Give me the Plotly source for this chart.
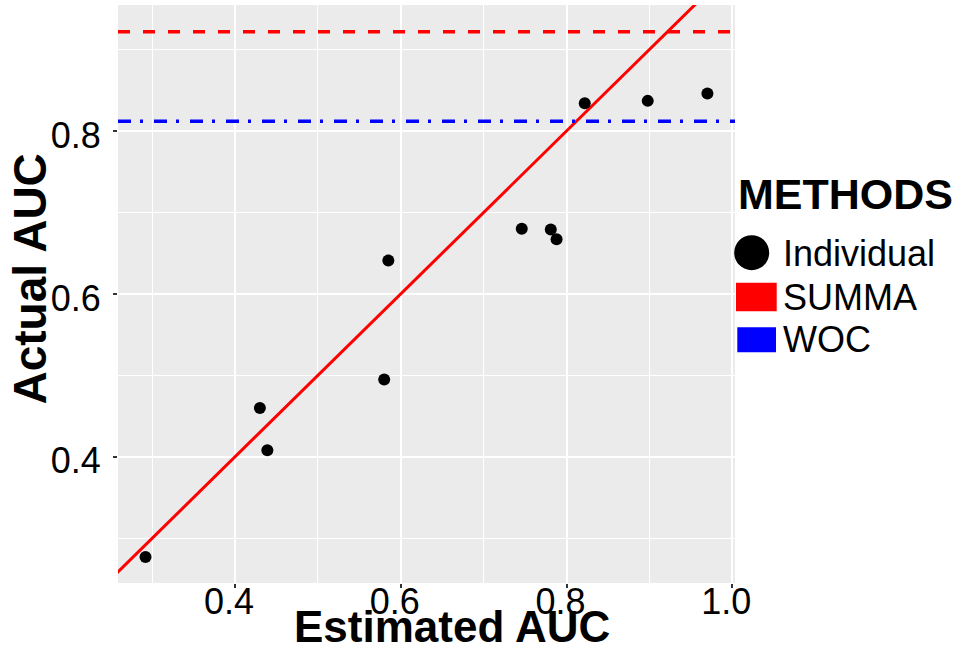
import plotly.graph_objects as go

# ---- data ----
estimated_auc = [0.292, 0.430, 0.439, 0.585, 0.580, 0.746, 0.781, 0.788, 0.822, 0.898, 0.970]
actual_auc = [0.277, 0.460, 0.408, 0.641, 0.495, 0.680, 0.679, 0.667, 0.834, 0.837, 0.846]
summa_auc = 0.922
woc_auc = 0.812
identity_line = [0.0, 1.2]

legend_title = "METHODS"
legend_labels = ["Individual", "SUMMA", "WOC"]
x_ticks = [0.4, 0.6, 0.8, 1.0]
y_ticks = [0.4, 0.6, 0.8]

W, H = 961, 652
L, R, T, B = 118, 226, 5, 69
PW, PH = W - L - R, H - T - B


def px(xp):
    return (xp - L) / PW


def py(yp):
    return (H - B - yp) / PH


FONT = "Liberation Sans, Arial, sans-serif"

fig = go.Figure()

# identity line
fig.add_trace(go.Scatter(x=identity_line, y=identity_line, mode="lines",
                         line=dict(color="#FF0000", width=3), showlegend=False,
                         hoverinfo="skip"))
# points
fig.add_trace(go.Scatter(x=estimated_auc, y=actual_auc, mode="markers",
                         marker=dict(color="black", size=12), showlegend=False,
                         cliponaxis=False))

# horizontal reference lines
fig.add_shape(type="line", xref="paper", yref="y", x0=0, x1=1, y0=summa_auc, y1=summa_auc,
              line=dict(color="#FF0000", width=3.5, dash="12px,13px"))
fig.add_shape(type="line", xref="paper", yref="y", x0=0, x1=1, y0=woc_auc, y1=woc_auc,
              line=dict(color="#0000FF", width=3.5, dash="13px,9px,3px,11px"))

# manual legend
fig.add_annotation(text="<b>%s</b>" % legend_title, xref="paper", yref="paper",
                   x=px(736), y=py(194), xanchor="left", yanchor="middle",
                   showarrow=False, font=dict(family=FONT, size=43, color="black"))
fig.add_shape(type="circle", xref="paper", yref="paper",
              x0=px(734.2), x1=px(769.2), y0=py(270.2), y1=py(235.2),
              fillcolor="black", line=dict(width=0))
fig.add_shape(type="rect", xref="paper", yref="paper",
              x0=px(736), x1=px(776.7), y0=py(311.3), y1=py(282.7),
              fillcolor="#FF0000", line=dict(width=0))
fig.add_shape(type="rect", xref="paper", yref="paper",
              x0=px(737.3), x1=px(776), y0=py(352.3), y1=py(327.3),
              fillcolor="#0000FF", line=dict(width=0))
for label, yc in zip(legend_labels, [253, 297.5, 339.5]):
    fig.add_annotation(text=label, xref="paper", yref="paper", x=px(781), y=py(yc),
                       xanchor="left", yanchor="middle", showarrow=False,
                       font=dict(family=FONT, size=36, color="black"))

# axis titles
fig.add_annotation(text="<b>Estimated AUC</b>", xref="paper", yref="paper",
                   x=px(451.5), y=py(652), xanchor="center", yanchor="bottom",
                   borderpad=0, showarrow=False,
                   font=dict(family=FONT, size=44, color="black"))
fig.add_annotation(text="<b>Actual AUC</b>", xref="paper", yref="paper",
                   x=px(29), y=py(279.5), xanchor="center", yanchor="middle",
                   textangle=-90, showarrow=False,
                   font=dict(family=FONT, size=46, color="black"))

axis_common = dict(
    showgrid=True, gridcolor="white", gridwidth=2,
    zeroline=False, showline=False,
    ticks="outside", ticklen=4, tickwidth=1.5, tickcolor="#333333",
    tickfont=dict(family=FONT, size=36, color="black"),
)

fig.update_xaxes(range=[0.2588, 1.0033], tickvals=x_ticks,
                 ticktext=["%.1f" % v for v in x_ticks],
                 minor=dict(tickvals=[0.3, 0.5, 0.7, 0.9], showgrid=True,
                            gridcolor="white", gridwidth=1.1, ticks=""),
                 ticklabelshift=-6, ticklabelstandoff=-17, **axis_common)
fig.update_yaxes(range=[0.2451, 0.9547], tickvals=y_ticks,
                 ticktext=["%.1f" % v for v in y_ticks],
                 minor=dict(tickvals=[0.3, 0.5, 0.7, 0.9], showgrid=True,
                            gridcolor="white", gridwidth=1.1, ticks=""),
                 ticklabelshift=4, ticklabelstandoff=5, **axis_common)

fig.update_layout(
    width=W, height=H,
    margin=dict(l=L, r=R, t=T, b=B, autoexpand=False),
    plot_bgcolor="#EBEBEB", paper_bgcolor="white",
    showlegend=False,
    font=dict(family=FONT, color="black"),
)

fig.write_html("out.html")
